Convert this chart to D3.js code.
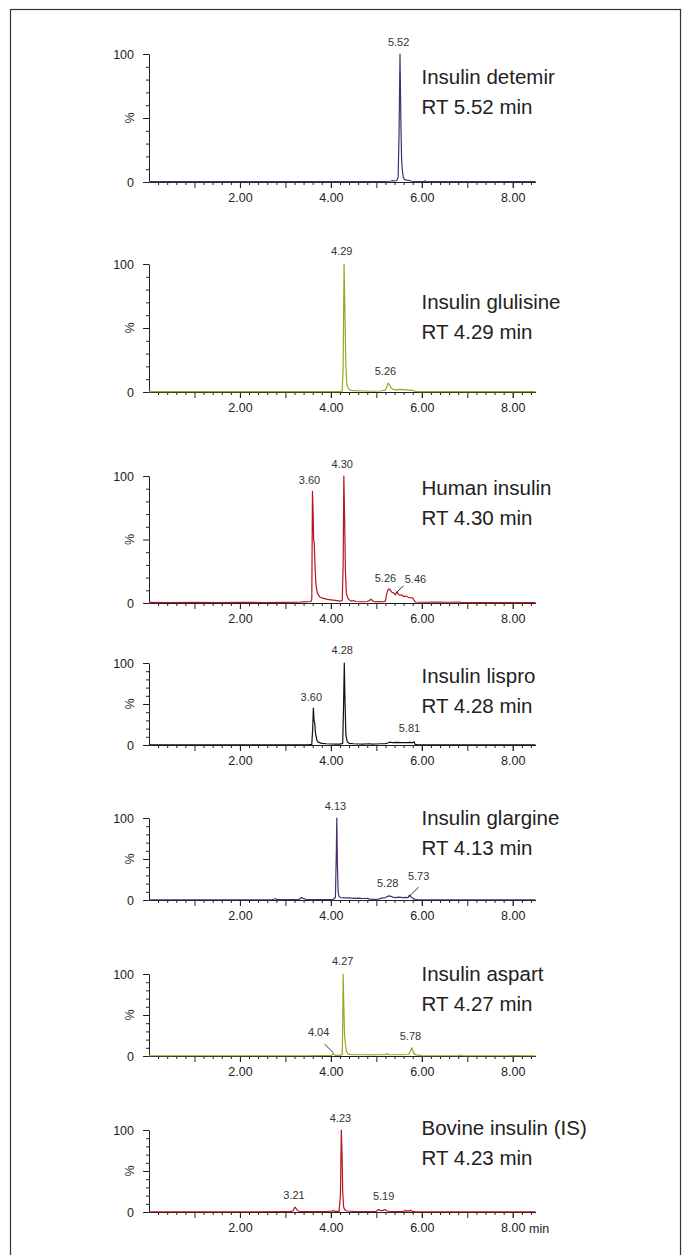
<!DOCTYPE html>
<html>
<head>
<meta charset="utf-8">
<script src="https://cdn.jsdelivr.net/npm/d3@7"></script>
<style>
  body { margin: 0; background: #fff; }
  text { font-family: "Liberation Sans", Arial, sans-serif; }
</style>
</head>
<body>
<div id="chart"></div>
<script>
// compound names and retention times (one per panel, top to bottom)
var names = ["Insulin detemir", "Insulin glulisine", "Human insulin", "Insulin lispro",
  "Insulin glargine", "Insulin aspart", "Bovine insulin (IS)"];
var rtLabels = ["RT 5.52 min", "RT 4.29 min", "RT 4.30 min", "RT 4.28 min",
  "RT 4.13 min", "RT 4.27 min", "RT 4.23 min"];

// chromatogram traces: [time (min), relative intensity (%)]
var detemir = [[0,0.3],[1,0.3],[2,0.3],[3,0.3],[4,0.3],[5,0.3],[5.3,0.6],[5.35,1],[5.4,0.8],[5.45,1.2],
  [5.48,4],[5.5,40],[5.52,100],[5.54,45],[5.555,18],[5.57,10],[5.59,4],[5.62,2],[5.66,1.5],[5.72,1.2],
  [5.78,0.6],[5.85,0.3],[6.05,0.3],[6.07,1],[6.09,0.3],[7,0.3],[8.5,0.3]];
var glulisine = [[0,0.3],[1,0.3],[2,0.3],[3,0.3],[4,0.3],[4.2,0.3],[4.25,0.8],[4.27,20],[4.29,100],
  [4.31,60],[4.33,20],[4.35,6],[4.38,3],[4.42,1.5],[4.5,1],[4.7,0.8],[4.9,0.6],[5.1,0.8],[5.2,1.5],
  [5.23,4],[5.26,7],[5.29,5.5],[5.33,3],[5.38,2],[5.45,1.5],[5.5,2],[5.6,1.8],[5.7,1.5],[5.8,1.2],
  [5.86,0.5],[6,0.3],[8.5,0.3]];
var human = [[0,0.5],[0.5,0.4],[1,0.5],[1.5,0.4],[2,0.5],[2.5,0.4],[3,0.5],[3.3,0.6],[3.4,0.9],[3.5,1],
  [3.56,1.2],[3.58,3],[3.595,88],[3.61,70],[3.62,50],[3.635,47],[3.65,30],[3.67,15],[3.7,8],[3.75,5],
  [3.8,4],[3.9,3],[4.0,2.5],[4.1,2],[4.2,1.5],[4.25,2],[4.27,30],[4.285,100],[4.3,70],[4.32,25],
  [4.34,8],[4.37,4],[4.4,2.5],[4.45,1.5],[4.5,2],[4.55,1.2],[4.7,1],[4.8,1.2],[4.85,2],[4.88,3],
  [4.91,2],[4.95,1],[5.05,1.2],[5.15,1],[5.2,1.5],[5.22,6],[5.25,10],[5.28,11],[5.31,10],[5.34,8.5],
  [5.38,8],[5.42,6.5],[5.46,9],[5.48,7],[5.52,6],[5.56,6.5],[5.6,5],[5.65,5.5],[5.7,4.5],[5.75,4.2],
  [5.8,4],[5.83,2],[5.86,0.8],[6,0.6],[6.3,0.8],[6.6,0.6],[6.8,0.8],[6.9,0.3],[7.5,0.3],[8.5,0.3]];
var lispro = [[0,0.3],[1,0.3],[2,0.3],[3,0.3],[3.5,0.3],[3.58,0.8],[3.6,20],[3.615,45],[3.63,30],
  [3.645,27],[3.66,15],[3.69,6],[3.72,3.5],[3.8,2],[3.9,1.5],[4,1.2],[4.1,1],[4.2,1],[4.26,2],
  [4.28,50],[4.295,100],[4.31,55],[4.33,12],[4.36,4],[4.4,2],[4.5,1.5],[4.6,1.2],[4.7,1],[4.85,1.5],
  [4.9,1],[5,1.2],[5.1,1.5],[5.2,1.6],[5.25,2.5],[5.3,3.5],[5.35,3],[5.45,3.2],[5.55,3],[5.65,2.8],
  [5.75,3.2],[5.8,2.8],[5.83,4],[5.85,0.8],[5.9,0.5],[6.5,0.3],[8.5,0.3]];
var glargine = [[0,0.3],[1,0.3],[2,0.3],[2.7,0.3],[2.78,1.5],[2.82,0.5],[3,0.4],[3.3,0.6],[3.35,3],
  [3.38,2],[3.42,1.5],[3.45,0.6],[3.6,0.5],[3.9,0.6],[4.05,0.8],[4.1,3],[4.12,60],[4.13,100],
  [4.145,40],[4.16,10],[4.18,4],[4.22,3],[4.3,2.5],[4.4,2.5],[4.5,2],[4.6,2.2],[4.7,1.8],[4.8,2],
  [4.85,1],[4.95,0.8],[5.05,1],[5.1,2],[5.15,2.5],[5.2,3],[5.25,4.5],[5.28,5],[5.32,4.5],[5.36,3.5],
  [5.42,3],[5.5,3.5],[5.58,3],[5.65,3.2],[5.7,3],[5.73,6],[5.76,4],[5.8,2],[5.85,0.8],[5.9,0.4],
  [6.5,0.3],[8.5,0.3]];
var aspart = [[0,0.3],[1,0.3],[2,0.3],[3,0.3],[3.5,0.3],[3.6,0.5],[3.9,0.6],[4,0.8],[4.03,1.5],
  [4.05,2.5],[4.07,1.5],[4.1,0.8],[4.2,0.8],[4.25,2],[4.26,40],[4.27,100],[4.285,60],[4.3,25],
  [4.32,15],[4.34,6],[4.37,3],[4.42,2],[4.5,1.5],[4.7,1.5],[4.9,1.3],[5.1,1.5],[5.2,1.5],[5.23,3],
  [5.26,1.5],[5.4,1.5],[5.6,1.5],[5.7,1.8],[5.74,5],[5.78,10],[5.81,5],[5.84,2],[5.9,1],[6,0.5],
  [6.5,0.3],[6.8,0.4],[6.85,1.2],[6.9,0.4],[8.5,0.3]];
var bovine = [[0,0.3],[1,0.3],[2,0.3],[3,0.4],[3.1,0.5],[3.17,1.5],[3.21,6],[3.24,4],[3.27,1.5],
  [3.32,0.6],[3.6,0.5],[3.9,0.6],[4.03,1],[4.05,2],[4.08,0.8],[4.18,0.8],[4.21,20],[4.23,100],
  [4.245,70],[4.26,25],[4.28,6],[4.31,2.5],[4.36,1.2],[4.5,0.8],[4.8,0.6],[5,0.8],[5.03,2.5],
  [5.06,2.8],[5.1,1.5],[5.15,2],[5.19,3],[5.22,1.5],[5.3,0.6],[5.5,0.5],[5.6,0.6],[5.63,2],
  [5.66,0.8],[5.7,1.8],[5.73,0.8],[5.76,2],[5.79,0.8],[5.85,0.5],[6.5,0.3],[8.5,0.3]];
var traces = [detemir, glulisine, human, lispro, glargine, aspart, bovine];

// peak labels: [text, time (centre), intensity (baseline)]
var peakLabels = [
  [["5.52", 5.49, 106]],
  [["4.29", 4.24, 107], ["5.26", 5.2, 13]],
  [["3.60", 3.53, 94], ["4.30", 4.25, 106], ["5.26", 5.2, 16.7], ["5.46", 5.86, 15.5]],
  [["3.60", 3.57, 54], ["4.28", 4.25, 111], ["5.81", 5.73, 16.3]],
  [["4.13", 4.1, 110], ["5.28", 5.25, 16.3], ["5.73", 5.93, 24.3]],
  [["4.04", 3.73, 23.8], ["4.27", 4.26, 111], ["5.78", 5.75, 19.8]],
  [["3.21", 3.19, 16.2], ["4.23", 4.21, 110], ["5.19", 5.16, 14.1]]
];
// leader lines: [t1, v1, t2, v2]
var leaders = [[], [], [[5.42, 7.6, 5.6, 13.6]], [], [[5.71, 3.6, 5.93, 15.7]], [[3.86, 14.6, 4.06, 3.6]], []];

var xLabelTicks = [2, 4, 6, 8];
var xMajorTicks = [1, 2, 3, 4, 5, 6, 7, 8];
var xMinorTicks = d3.range(1, 43).filter(function(k) { return k % 5 !== 0; }).map(function(k) { return k * 0.2; });
var yMajorTicks = [0, 50, 100];
var yMinorTicks = [10, 20, 30, 40, 60, 70, 80, 90];

// layout
var w = 689;
var h = 1255;
var panelTop = [54, 264, 476, 663, 818, 974, 1130];
var panelHeight = [128, 128, 127, 82, 82, 82, 82];
var nameY = [84.3, 309.3, 495, 683.3, 825.3, 981, 1135];
var colors = ["#4d2b6e", "#9da523", "#b3171d", "#111111", "#4d2b6e", "#9da523", "#b3171d"];

var svg = d3.select("#chart")
  .append("svg")
  .attr("width", w)
  .attr("height", h);

svg.append("rect")
  .attr("x", 10.5)
  .attr("y", 9.5)
  .attr("width", 670)
  .attr("height", 1260)
  .attr("fill", "none")
  .attr("stroke", "#333")
  .attr("stroke-width", 1.2);

var xScale = d3.scaleLinear()
  .domain([0, 8.5])
  .range([149, 535.5]);

function styleAxis(g) {
  g.attr("font-size", 12.5)
    .attr("font-family", "Liberation Sans, Arial, sans-serif");
  g.selectAll("line").attr("stroke", "#222");
  g.selectAll("path").attr("stroke", "#222");
  g.selectAll("text").attr("fill", "#222");
}

traces.forEach(function(data, i) {
  var top = panelTop[i];
  var y0 = top + panelHeight[i];
  var yScale = d3.scaleLinear()
    .domain([0, 100])
    .range([y0, top]);

  var g = svg.append("g");

  // x axis: minor, major and labelled ticks
  g.append("g")
    .attr("transform", "translate(0," + y0 + ")")
    .call(d3.axisBottom(xScale).tickValues(xMinorTicks).tickSize(3).tickSizeOuter(0).tickFormat(""))
    .call(function(a) { a.select(".domain").remove(); })
    .call(styleAxis);
  g.append("g")
    .attr("transform", "translate(0," + y0 + ")")
    .call(d3.axisBottom(xScale).tickValues(xMajorTicks).tickSize(6).tickSizeOuter(0).tickFormat(""))
    .call(function(a) { a.select(".domain").remove(); })
    .call(styleAxis);
  g.append("g")
    .attr("transform", "translate(0," + y0 + ")")
    .call(d3.axisBottom(xScale).tickValues(xLabelTicks).tickSize(6).tickSizeOuter(0)
      .tickPadding(5.5).tickFormat(d3.format(".2f")))
    .call(styleAxis);

  // y axis
  g.append("g")
    .attr("transform", "translate(" + xScale(0) + ",0)")
    .call(d3.axisLeft(yScale).tickValues(yMinorTicks).tickSize(3).tickSizeOuter(0).tickFormat(""))
    .call(function(a) { a.select(".domain").remove(); })
    .call(styleAxis);
  g.append("g")
    .attr("transform", "translate(" + xScale(0) + ",0)")
    .call(d3.axisLeft(yScale).tickValues(yMajorTicks).tickSize(6).tickSizeOuter(0).tickPadding(9)
      .tickFormat(function(d) { return d === 50 ? "" : d; }))
    .call(styleAxis);

  g.append("text")
    .text("%")
    .attr("transform", "translate(" + (xScale(0) - 15) + "," + yScale(50) + ") rotate(-90)")
    .attr("text-anchor", "middle")
    .attr("font-size", 12.5)
    .attr("fill", "#222");

  // trace
  var line = d3.line()
    .x(function(d) { return xScale(d[0]); })
    .y(function(d) { return yScale(d[1]); });

  g.append("path")
    .datum(data)
    .attr("fill", "none")
    .attr("stroke", colors[i])
    .attr("stroke-width", 1.2)
    .attr("stroke-linejoin", "round")
    .attr("d", line);

  // peak labels
  g.selectAll(".peak")
    .data(peakLabels[i])
    .enter()
    .append("text")
    .attr("class", "peak")
    .text(function(d) { return d[0]; })
    .attr("x", function(d) { return xScale(d[1]); })
    .attr("y", function(d) { return yScale(d[2]); })
    .attr("text-anchor", "middle")
    .attr("font-size", 11)
    .attr("fill", "#333");

  g.selectAll(".leader")
    .data(leaders[i])
    .enter()
    .append("line")
    .attr("class", "leader")
    .attr("x1", function(d) { return xScale(d[0]); })
    .attr("y1", function(d) { return yScale(d[1]); })
    .attr("x2", function(d) { return xScale(d[2]); })
    .attr("y2", function(d) { return yScale(d[3]); })
    .attr("stroke", "#222")
    .attr("stroke-width", 0.9);

  // compound name and RT
  g.append("text")
    .text(names[i])
    .attr("x", 421.5)
    .attr("y", nameY[i])
    .attr("font-size", 20.5)
    .attr("fill", "#222");
  g.append("text")
    .text(rtLabels[i])
    .attr("x", 421.5)
    .attr("y", nameY[i] + 29.5)
    .attr("font-size", 20.5)
    .attr("fill", "#222");

  if (i === traces.length - 1) {
    g.append("text")
      .text("min")
      .attr("x", 529)
      .attr("y", y0 + 20.5)
      .attr("font-size", 12.5)
      .attr("fill", "#222");
  }
});
</script>
</body>
</html>
